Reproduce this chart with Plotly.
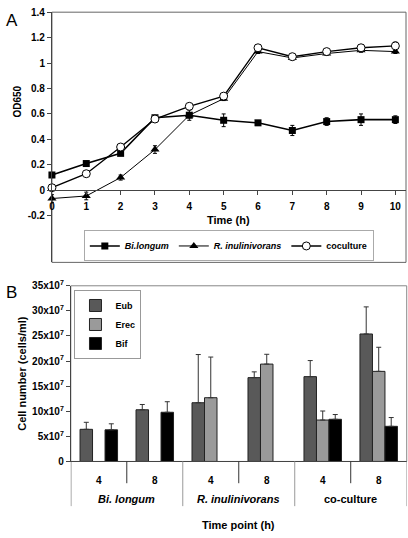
import plotly.graph_objects as go

# ---------------- data: panel A ----------------
time_h = [0, 1, 2, 3, 4, 5, 6, 7, 8, 9, 10]
bi_longum = [0.12, 0.21, 0.29, 0.57, 0.59, 0.55, 0.53, 0.47, 0.54, 0.555, 0.555]
bi_longum_err = [0.02, 0.01, 0.015, 0.015, 0.04, 0.05, 0.015, 0.04, 0.03, 0.045, 0.03]
r_inulin = [-0.065, -0.045, 0.10, 0.32, 0.59, 0.72, 1.09, 1.04, 1.075, 1.10, 1.09]
r_inulin_err = [0.03, 0.03, 0.02, 0.03, 0.02, 0.015, 0.015, 0.015, 0.015, 0.015, 0.015]
coculture = [0.02, 0.13, 0.34, 0.56, 0.66, 0.74, 1.12, 1.05, 1.09, 1.12, 1.135]
coculture_err = [0.01, 0.01, 0.015, 0.01, 0.015, 0.01, 0.02, 0.015, 0.015, 0.015, 0.03]
a_yticks = [-0.2, 0, 0.2, 0.4, 0.6, 0.8, 1, 1.2, 1.4]
a_yticktext = ["-0.2", "0", "0.2", "0.4", "0.6", "0.8", "1", "1.2", "1.4"]

# ---------------- data: panel B ----------------
groups = ["<i>Bi. longum</i>", "<i>R. inulinivorans</i>", "co-culture"]
group_of = [0, 0, 1, 1, 2, 2]
timepoints = ["4", "8", "4", "8", "4", "8"]
eub = [6.4e7, 10.3e7, 11.7e7, 16.7e7, 16.9e7, 25.4e7]
eub_err = [1.4e7, 1.05e7, 9.6e7, 1.15e7, 3.2e7, 5.4e7]
erec = [None, None, 12.7e7, 19.4e7, 8.25e7, 17.95e7]
erec_err = [0, 0, 8.1e7, 1.95e7, 1.8e7, 4.8e7]
bif = [6.3e7, 9.8e7, None, None, 8.4e7, 7.0e7]
bif_err = [1.2e7, 2.1e7, 0, 0, 0.95e7, 1.75e7]
b_yticks = [0, 5e7, 10e7, 15e7, 20e7, 25e7, 30e7, 35e7]
b_yticktext = ["0"] + [f"{int(v/1e7)}x10<sup>7</sup>" for v in b_yticks[1:]]

W, H = 408, 538
FONT = "Liberation Sans, Arial, sans-serif"


def px(x):
    return x / W


def py(y):
    return 1 - y / H


bold = dict(family=FONT, size=10, color="#000", weight="bold")

fig = go.Figure()

# ---- panel A traces (drawing order: triangles, squares, circles) ----
fig.add_trace(go.Scatter(
    x=time_h, y=r_inulin, name="<i>R. inulinivorans</i>", legendrank=2,
    mode="lines+markers", line=dict(color="#000", width=1),
    marker=dict(symbol="triangle-up", size=8, color="#000"),
    error_y=dict(type="data", array=r_inulin_err, color="#000", thickness=1, width=2),
    cliponaxis=False, xaxis="x", yaxis="y", legend="legend"))
fig.add_trace(go.Scatter(
    x=time_h, y=bi_longum, name="<i>Bi.longum</i>", legendrank=1,
    mode="lines+markers", line=dict(color="#000", width=1.6),
    marker=dict(symbol="square", size=7, color="#000"),
    error_y=dict(type="data", array=bi_longum_err, color="#000", thickness=1, width=2),
    cliponaxis=False, xaxis="x", yaxis="y", legend="legend"))
fig.add_trace(go.Scatter(
    x=time_h, y=coculture, name="coculture", legendrank=3,
    mode="lines+markers", line=dict(color="#000", width=1.4),
    marker=dict(symbol="circle", size=8, color="#fff", line=dict(color="#000", width=1)),
    error_y=dict(type="data", array=coculture_err, color="#000", thickness=1, width=2),
    cliponaxis=False, xaxis="x", yaxis="y", legend="legend"))

# ---- panel B traces ----
xidx = list(range(len(timepoints)))
for name, vals, errs, col in [("Eub", eub, eub_err, "#595959"),
                              ("Erec", erec, erec_err, "#9a9a9a"),
                              ("Bif", bif, bif_err, "#000000")]:
    fig.add_trace(go.Bar(
        x=xidx, y=vals, name=name,
        marker=dict(color=col, line=dict(color="#222", width=1)),
        error_y=dict(type="data", array=errs, arrayminus=[0] * len(errs), symmetric=False,
                     color="#333", thickness=1, width=2.5),
        xaxis="x2", yaxis="y2", legend="legend2"))

shapes = []
# panel boxes
shapes.append(dict(type="rect", xref="x domain", yref="y domain", x0=0, x1=1, y0=0, y1=1,
                   line=dict(color="#666", width=1), layer="below"))
shapes.append(dict(type="rect", xref="x2 domain", yref="y2 domain", x0=0, x1=1, y0=0, y1=1,
                   line=dict(color="#888", width=1), layer="below"))
# category separators under panel B
n = len(timepoints)
for b in range(n + 1):
    xb = b - 0.5
    if b == 0:
        y_end, col = 511.5, "#444"
    elif b == n or group_of[b] != group_of[b - 1]:
        y_end, col = 511.5, "#999"
    else:
        y_end, col = 488, "#333"
    shapes.append(dict(type="line", xref="x2", yref="paper", x0=xb, x1=xb,
                       y0=py(465.7), y1=py(y_end), line=dict(color=col, width=1)))

title_font = dict(family=FONT, size=11, color="#000", weight="bold")
annotations = [
    dict(text="A", x=px(1), y=py(2), xref="paper", yref="paper", xanchor="left", yanchor="top",
         showarrow=False, font=dict(family=FONT, size=17, color="#000")),
    dict(text="B", x=px(1), y=py(281), xref="paper", yref="paper", xanchor="left", yanchor="top",
         showarrow=False, font=dict(family=FONT, size=17, color="#000")),
    dict(text="OD650", x=px(15), y=py(97), xref="paper", yref="paper", textangle=-90,
         xanchor="center", yanchor="middle", showarrow=False, font=bold),
    dict(text="Time (h)", x=0.5, xref="x domain", y=py(218), yref="paper",
         xanchor="center", yanchor="middle", showarrow=False, font=title_font),
    dict(text="Cell number (cells/ml)", x=px(19), y=py(375), xref="paper", yref="paper",
         textangle=-90, xanchor="center", yanchor="middle", showarrow=False, font=title_font),
    dict(text="Time point (h)", x=0.5, xref="x2 domain", y=py(531), yref="paper",
         xanchor="center", yanchor="middle", showarrow=False, font=title_font),
]
for gi, g in enumerate(groups):
    members = [i for i in xidx if group_of[i] == gi]
    annotations.append(dict(text=g, x=sum(members) / len(members), xref="x2",
                            y=py(504), yref="paper", xanchor="center", yanchor="middle",
                            showarrow=False, font=title_font))

fig.update_layout(
    width=W, height=H, margin=dict(l=0, r=0, t=0, b=0),
    paper_bgcolor="#fff", plot_bgcolor="#fff",
    font=dict(family=FONT, size=10, color="#000"),
    barmode="group", bargap=0.33, bargroupgap=0,
    xaxis=dict(domain=[px(49.3), px(406)], range=[0, 10.31], anchor="free",
               position=py(188), showline=True, linecolor="#444", linewidth=1,
               ticks="outside", ticklen=4, tickcolor="#444", tickvals=time_h,
               tickfont=bold, showgrid=False, zeroline=False, ticklabelstandoff=3),
    yaxis=dict(domain=[py(261.7), py(5.3)], range=[-0.567, 1.4], anchor="x",
               showline=True, linecolor="#444", linewidth=1, ticks="outside", ticklen=4,
               tickcolor="#444", tickvals=a_yticks, ticktext=a_yticktext, tickfont=bold,
               showgrid=False, zeroline=False),
    xaxis2=dict(domain=[px(68.3), px(406.7)], range=[-0.5, 5.5], anchor="y2",
                showline=True, linecolor="#444", linewidth=1, ticks="",
                tickvals=xidx, ticktext=timepoints, tickfont=bold,
                showgrid=False, zeroline=False, ticklabelstandoff=10),
    yaxis2=dict(domain=[py(465.7), py(285.7)], range=[0, 35e7], anchor="x2",
                showline=True, linecolor="#444", linewidth=1, ticks="outside", ticklen=4,
                tickcolor="#444", tickvals=b_yticks, ticktext=b_yticktext, tickfont=bold,
                showgrid=False, zeroline=False),
    legend=dict(orientation="h", x=px(227.5), xref="paper", xanchor="center",
                y=py(229), yanchor="top", bgcolor="#fff", bordercolor="#aaa", borderwidth=1,
                font=dict(family=FONT, size=9, color="#000", weight="bold"),
                itemwidth=30, traceorder="normal"),
    legend2=dict(orientation="v", x=px(72), xanchor="left", y=py(290), yanchor="top",
                 bgcolor="#fff", bordercolor="#999", borderwidth=1,
                 font=dict(family=FONT, size=9, color="#000", weight="bold"),
                 itemwidth=30, tracegroupgap=0),
    shapes=shapes, annotations=annotations, showlegend=True,
)

fig.write_html(
    "out.html",
    config={"displayModeBar": False},
    post_script="document.body.style.margin='0';document.body.style.overflow='hidden';"
                "document.documentElement.style.overflow='hidden';window.dispatchEvent(new Event('resize'));",
)
